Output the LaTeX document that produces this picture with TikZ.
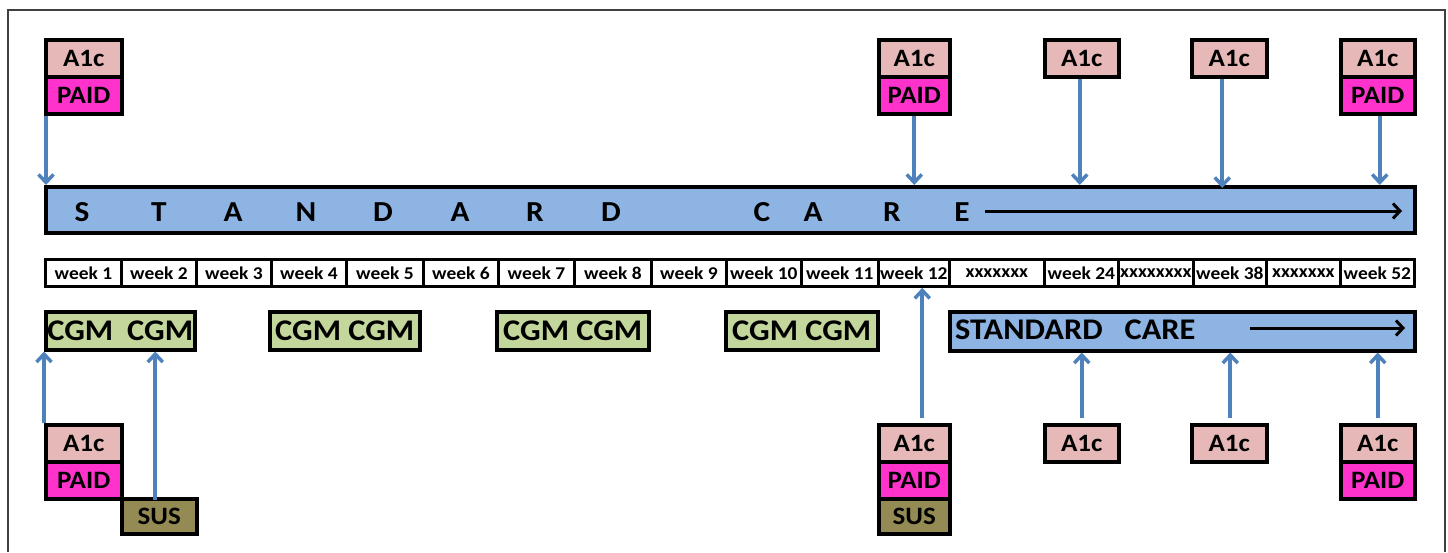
\documentclass[tikz,border=0pt]{standalone}
\usepackage{fontspec}
\setmainfont{Carlito}[FakeStretch=1.08]
\usetikzlibrary{arrows.meta,calc}
\definecolor{a1cpink}{HTML}{E6B9B8}
\definecolor{paidmag}{HTML}{FF33CC}
\definecolor{susolive}{HTML}{948A54}
\definecolor{cgmgreen}{HTML}{C3D69B}
\definecolor{careblue}{HTML}{8EB4E3}
\definecolor{arrowblue}{HTML}{4F81BD}
\newcommand{\fsz}[1]{\fontsize{#1}{#1}\selectfont}

\begin{document}
\begin{tikzpicture}[x=1pt,y=-1pt,
  cellbox/.style={draw=black,line width=3.5pt,anchor=north west,inner sep=0pt,
    font=\bfseries\fsz{25}},
  a1cbox/.style={cellbox,fill=a1cpink,minimum height=37pt},
  paidbox/.style={cellbox,fill=paidmag,minimum height=37pt},
  susbox/.style={cellbox,fill=susolive,minimum height=35pt},
  cgmbox/.style={cellbox,fill=cgmgreen,minimum height=38pt,font=\bfseries\fsz{30}},
  carebar/.style={cellbox,fill=careblue},
  weekbox/.style={cellbox,fill=white,line width=2.8pt,minimum height=27pt,font=\bfseries\fsz{18}},
  barletter/.style={anchor=base,inner sep=0pt,font=\bfseries\fsz{29}},
  bluearrow/.style={draw=arrowblue,line width=4pt,
    -{Straight Barb[length=8pt,width=15pt,line width=3.5pt]}},
  blackarrow/.style={draw=black,line width=3pt,
    -{Straight Barb[length=7pt,width=15pt,line width=3pt]}}]

\useasboundingbox (0,0) rectangle (1448,552);

% frame
\draw[line width=1.3pt,black!75] (8,552) -- (8,10) -- (1445,10) -- (1445,552);

% ---------- top measurement markers ----------
\node[a1cbox,minimum width=76pt] (ta1) at (44,38) {A1c};
\node[paidbox,minimum width=76pt] (tp1) at (44,75) {PAID};
\node[a1cbox,minimum width=71pt] (ta2) at (877,38) {A1c};
\node[paidbox,minimum width=71pt] (tp2) at (877,75) {PAID};
\node[a1cbox,minimum width=74pt] (ta3) at (1043,38) {A1c};
\node[a1cbox,minimum width=75pt] (ta4) at (1190,38) {A1c};
\node[a1cbox,minimum width=74pt] (ta5) at (1339,38) {A1c};
\node[paidbox,minimum width=74pt] (tp5) at (1339,75) {PAID};

% ---------- standard care bar (top) ----------
\node[carebar,minimum width=1369pt,minimum height=46pt] (sc) at (44,185) {};
\foreach \x/\c [count=\i] in {82/S,159/T,233/A,306/N,383/D,460/A,535/R,611/D,762/C,813/A,892/R,962/E}
  \node[barletter] (sl\i) at (\x,221) {\c};
\coordinate (scFrom) at (985,211);
\coordinate (scTo) at (1402,211);
\draw[blackarrow] (scFrom) -- (scTo);

% arrows from top markers down to the bar
\draw[bluearrow] ([xshift=2pt]tp1.south west) -- ([xshift=2pt]tp1.south west |- sc.north);
\draw[bluearrow] (tp2.south) -- (tp2.south |- sc.north);
\draw[bluearrow] ([xshift=-2pt]ta3.south) -- ([xshift=-2pt]ta3.south |- sc.north);
\draw[bluearrow] ([xshift=-7pt]ta4.south) -- ([xshift=-7pt,yshift=-3pt]ta4.south |- sc.north);
\draw[bluearrow] ([xshift=2pt]tp5.south) -- ([xshift=2pt]tp5.south |- sc.north);

% ---------- week timeline ----------
\foreach \x/\w/\t [count=\i] in {
  44/76/week 1, 120/75/week 2, 195/75/week 3, 270/75/week 4, 345/77/week 5,
  422/75/week 6, 497/76/week 7, 573/77/week 8, 650/75/week 9, 725/75/week 10,
  800/77/week 11, 877/71/week 12, 948/95/xxxxxxx, 1043/74/week 24,
  1117/75/xxxxxxxx, 1192/73/week 38, 1265/74/xxxxxxx, 1339/74/week 52}
  \node[weekbox,minimum width=\w pt] (wk\i) at (\x,258) {\t};

% ---------- CGM blocks ----------
\node[cgmbox,minimum width=149pt] (cg1) at (44,310) {CGM\hspace{14pt}CGM\hspace{5pt}};
\node[cgmbox,minimum width=150pt] (cg2) at (268,310) {CGM CGM};
\node[cgmbox,minimum width=152pt] (cg3) at (495,310) {CGM CGM};
\node[cgmbox,minimum width=152pt] (cg4) at (724,310) {CGM CGM};

% ---------- standard care bar (bottom) ----------
\node[carebar,minimum width=465pt,minimum height=39pt] (sc2) at (948,310) {};
\node[anchor=base west,inner sep=0pt,font=\bfseries\fsz{30}] (sc2txt) at (955,339)
  {STANDARD\hspace{22pt}CARE};
\coordinate (sc2From) at (1250,328);
\coordinate (sc2To) at (1405,328);
\draw[blackarrow] (sc2From) -- (sc2To);

% ---------- bottom measurement markers ----------
\node[a1cbox,minimum width=76pt] (ba1) at (44,423) {A1c};
\node[paidbox,minimum width=76pt] (bp1) at (44,460) {PAID};
\node[susbox,minimum width=75pt] (bs1) at (120,497) {SUS};
\node[a1cbox,minimum width=71pt] (ba2) at (877,423) {A1c};
\node[paidbox,minimum width=71pt] (bp2) at (877,460) {PAID};
\node[susbox,minimum width=71pt] (bs2) at (877,497) {SUS};
\node[a1cbox,minimum width=74pt] (ba3) at (1043,423) {A1c};
\node[a1cbox,minimum width=75pt] (ba4) at (1190,423) {A1c};
\node[a1cbox,minimum width=74pt] (ba5) at (1339,423) {A1c};
\node[paidbox,minimum width=74pt] (bp5) at (1339,460) {PAID};

% arrows from bottom markers up
\draw[bluearrow] (ba1.north west) -- (ba1.north west |- cg1.south);
\draw[bluearrow] ([xshift=-4pt,yshift=-3pt]bs1.north) -- ([xshift=-4pt]bs1.north |- cg1.south);
\draw[bluearrow] ([xshift=8pt,yshift=5pt]ba2.north) -- ([xshift=8pt]ba2.north |- wk12.south);
\draw[bluearrow] ([yshift=5pt]ba3.north) -- (ba3.north |- sc2.south);
\draw[bluearrow] ([xshift=1pt,yshift=5pt]ba4.north) -- ([xshift=1pt]ba4.north |- sc2.south);
\draw[bluearrow] ([yshift=5pt]ba5.north) -- (ba5.north |- sc2.south);

\end{tikzpicture}
\end{document}
